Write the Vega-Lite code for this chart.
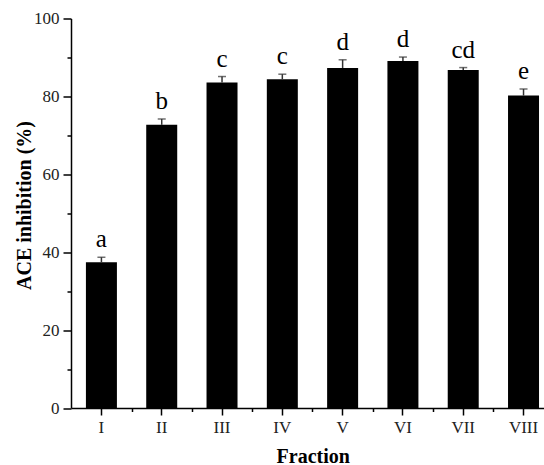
{
  "$schema": "https://vega.github.io/schema/vega-lite/v6.json",
  "autosize": "none",
  "width": 473,
  "height": 389.5,
  "padding": {"left": 71, "top": 18.5, "right": 0, "bottom": 57},
  "background": "white",
  "config": {
    "view": {"stroke": null},
    "axis": {
      "labelFont": "Liberation Serif",
      "titleFont": "Liberation Serif",
      "labelColor": "#222",
      "titleColor": "#000",
      "domainColor": "#000",
      "tickColor": "#000",
      "domainWidth": 1.5,
      "tickWidth": 1.5,
      "grid": false
    }
  },
  "data": {
    "values": [
      {"fraction": "I", "mean": 37.4, "upper": 38.7, "group": "a"},
      {"fraction": "II", "mean": 72.7, "upper": 74.2, "group": "b"},
      {"fraction": "III", "mean": 83.6, "upper": 85.1, "group": "c"},
      {"fraction": "IV", "mean": 84.4, "upper": 85.7, "group": "c"},
      {"fraction": "V", "mean": 87.3, "upper": 89.4, "group": "d"},
      {"fraction": "VI", "mean": 89.1, "upper": 90.1, "group": "d"},
      {"fraction": "VII", "mean": 86.8, "upper": 87.4, "group": "cd"},
      {"fraction": "VIII", "mean": 80.2, "upper": 81.9, "group": "e"}
    ]
  },
  "resolve": {"axis": {"x": "independent", "y": "independent"}},
  "layer": [
    {
      "mark": {"type": "bar", "color": "#000"},
      "encoding": {
        "x": {
          "field": "fraction", "type": "nominal", "sort": null,
          "scale": {"paddingInner": 0.486, "paddingOuter": 0.165, "align": 0.75},
          "axis": {
            "orient": "bottom",
            "title": "Fraction",
            "titleFontSize": 20,
            "titleFontWeight": "bold",
            "titleX": 241.7,
            "titleY": 54,
            "titleBaseline": "alphabetic",
            "titleAnchor": null,
            "labelFontSize": 17,
            "labelAngle": 0,
            "labelPadding": 4,
            "tickSize": 7
          }
        },
        "y": {
          "field": "mean", "type": "quantitative",
          "scale": {"domain": [0, 100], "nice": false, "zero": true},
          "axis": {
            "orient": "left",
            "title": "ACE inhibition (%)",
            "titleFontSize": 20,
            "titleFontWeight": "bold",
            "titleAngle": -90,
            "titleX": -47,
            "titleY": 186.5,
            "titleAlign": "center",
            "titleBaseline": "middle",
            "titleAnchor": null,
            "values": [0, 20, 40, 60, 80, 100],
            "labelFontSize": 17,
            "labelPadding": 4,
            "tickSize": 8
          }
        }
      }
    },
    {
      "mark": {"type": "point", "opacity": 0},
      "encoding": {
        "x": {
          "field": "fraction", "type": "nominal", "sort": null,
          "axis": {
            "orient": "bottom",
            "title": null,
            "labels": false,
            "domain": false,
            "tickOffset": 30.15,
            "tickSize": 3.5
          }
        },
        "y": {
          "field": "mean", "type": "quantitative",
          "axis": {
            "orient": "left",
            "title": null,
            "labels": false,
            "domain": false,
            "values": [10, 30, 50, 70, 90],
            "tickSize": 4
          }
        }
      }
    },
    {
      "mark": {"type": "rule", "color": "#333", "strokeWidth": 1.5},
      "encoding": {
        "x": {"field": "fraction", "type": "nominal", "sort": null, "axis": null},
        "y": {"field": "mean", "type": "quantitative", "axis": null},
        "y2": {"field": "upper"}
      }
    },
    {
      "mark": {"type": "tick", "color": "#333", "size": 8, "thickness": 1.5},
      "encoding": {
        "x": {"field": "fraction", "type": "nominal", "sort": null, "axis": null},
        "y": {"field": "upper", "type": "quantitative", "axis": null}
      }
    },
    {
      "mark": {"type": "text", "font": "Liberation Serif", "fontSize": 25, "color": "#000", "baseline": "alphabetic", "dy": -10},
      "encoding": {
        "x": {"field": "fraction", "type": "nominal", "sort": null, "axis": null},
        "y": {"field": "upper", "type": "quantitative", "axis": null},
        "text": {"field": "group"}
      }
    }
  ]
}
